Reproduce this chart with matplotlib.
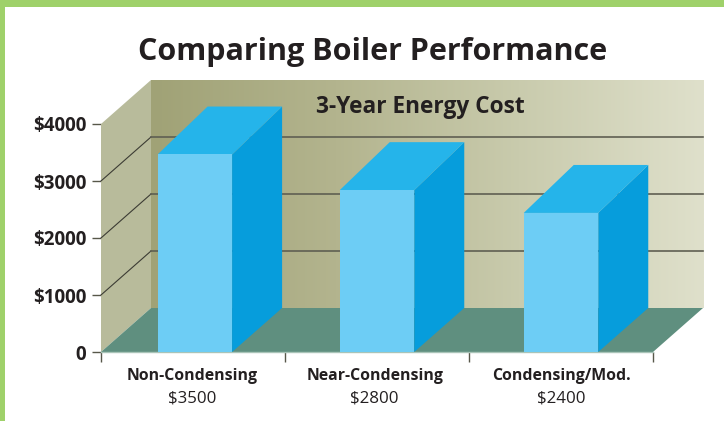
#!/usr/bin/python

# Faux-3D bar chart: boiler energy cost comparison

import numpy as np
import matplotlib
matplotlib.use('Agg')
import matplotlib.pyplot as plt
from matplotlib.colors import LinearSegmentedColormap
from matplotlib.patches import Rectangle

categories = ['Non-Condensing', 'Near-Condensing', 'Condensing/Mod.']
cost_labels = ['$3500', '$2800', '$2400']
# bar tops (the printed bars don't quite match their labels)
bar_values = [3465, 2840, 2440]
bar_pos = [0.51, 1.5, 2.5]
label_pos = [0.495, 1.487, 2.5]
y_ticks = [0, 1000, 2000, 3000, 4000]
y_labels = ['0', '$1000', '$2000', '$3000', '$4000']

W, H = 724, 421
FONT = 'Open Sans'
TEXT = '#231f20'
BAR_W = 0.405
# depth of the 3D box in data units
DX = 50 / 184.0
DY = 44 / 57.0 * 1000

fig = plt.figure(figsize=(W / 100.0, H / 100.0), dpi=100)
ax = fig.add_axes([101.0 / W, (H - 352.0) / H, 552.0 / W, 228.0 / H])
ax.set_xlim(0, 3)
ax.set_ylim(0, 4000)
for s in ax.spines.values():
    s.set_visible(False)
ax.patch.set_visible(False)

# page border
fig.add_artist(Rectangle((0, 1 - 7.0 / H), 1, 7.0 / H, transform=fig.transFigure, color='#9fd16a', lw=0))
fig.add_artist(Rectangle((0, 0), 5.0 / W, 1, transform=fig.transFigure, color='#9fd16a', lw=0))

# back wall with its left to right fade
cmap = LinearSegmentedColormap.from_list('wall', ['#a0a276', '#b3b48e', '#c9cbad', '#dfe0cb'])
ax.imshow(np.linspace(0, 1, 256).reshape(1, -1), cmap=cmap, aspect='auto', zorder=1,
          extent=[DX, 3 + DX, DY, 4000 + DY], clip_on=False)
ax.set_xlim(0, 3)
ax.set_ylim(0, 4000)

# side wall and floor
ax.fill([0, DX, DX, 0], [0, DY, 4000 + DY, 4000], color='#b8bb9b', lw=0, zorder=2, clip_on=False)
ax.fill([0, 3, 3 + DX, DX], [0, 0, DY, DY], color='#5f8f7f', lw=0, zorder=2, clip_on=False)
ax.plot([0, 3], [0, 0], color='#a9c4b8', lw=1, zorder=2, clip_on=False)

# grid lines run along the side wall and then across the back
for v in y_ticks[1:-1]:
    ax.plot([0, DX], [v, v + DY], color='#3c3c34', lw=0.8, zorder=3, clip_on=False)
    ax.plot([DX, 3 + DX], [v + DY, v + DY], color='#5f5f52', lw=1.2, zorder=3, clip_on=False)

for x, val in zip(bar_pos, bar_values):
    x0 = x - BAR_W / 2
    x1 = x0 + BAR_W
    ax.fill([x1, x1 + DX, x1 + DX, x1], [0, DY, val + DY * 1.09, val], color='#069ddc', lw=0, zorder=4, clip_on=False)
    ax.fill([x0, x1, x1 + DX, x0 + DX], [val, val, val + DY * 1.09, val + DY * 1.09], color='#25b4ea', lw=0, zorder=4, clip_on=False)
    ax.bar(x, val, BAR_W, color='#6dcdf5', lw=0, zorder=5, clip_on=False)

ax.set_yticks(y_ticks)
ax.set_yticklabels(y_labels, family=FONT, weight='bold', size=13.5, color=TEXT)
ax.set_xticks([0, 1, 2, 3])
ax.set_xticklabels([])
ax.tick_params(axis='y', length=6.5, width=1, color='#57574a', pad=4)
ax.tick_params(axis='x', length=7, width=1, color='#57574a')

for x, cat, cost in zip(label_pos, categories, cost_labels):
    ax.annotate(cat, (x, 0), xytext=(0, -24), textcoords='offset pixels', ha='center', va='center',
                family=FONT, weight='bold', size=11.4, color=TEXT)
    ax.annotate(cost, (x, 0), xytext=(0, -46), textcoords='offset pixels', ha='center', va='center',
                family=FONT, size=12.2, color=TEXT)

fig.text(373.0 / W, 1 - 52.0 / H, 'Comparing Boiler Performance', ha='center', va='center',
         family=FONT, weight='bold', size=22, color=TEXT)
fig.text(420.0 / W, 1 - 107.0 / H, '3-Year Energy Cost', ha='center', va='center',
         family=FONT, weight='bold', size=16.3, color=TEXT, zorder=10)

fig.savefig('out.png', dpi=100, facecolor='white')
